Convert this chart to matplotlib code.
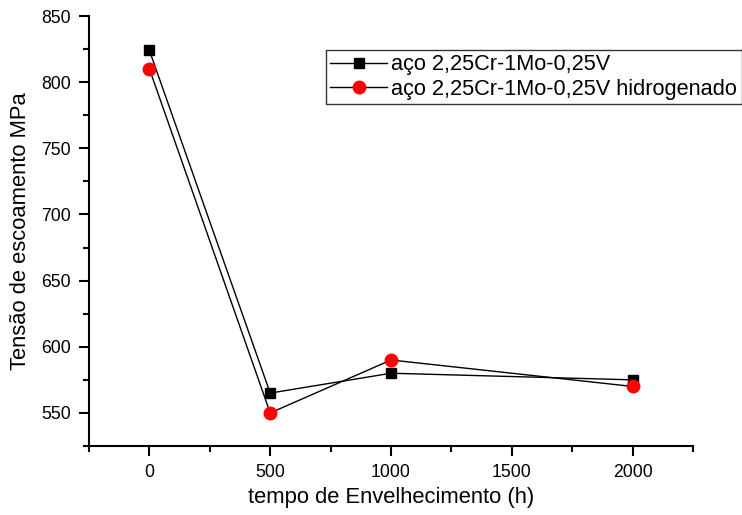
import matplotlib
matplotlib.use("Agg")
from matplotlib import pyplot as plt
from matplotlib.ticker import MultipleLocator

plt.rcParams['font.family'] = ['Liberation Sans', 'DejaVu Sans']

# data
tempo = [0, 500, 1000, 2000]
tensao_aco = [824, 565, 580, 575]
tensao_hidrogenado = [810, 550, 590, 570]
label_aco = 'aço 2,25Cr-1Mo-0,25V'
label_hidro = 'aço 2,25Cr-1Mo-0,25V hidrogenado'

fig = plt.figure(figsize=(7.42, 5.15), dpi=100)
ax = fig.add_axes([89 / 742, 1 - 446 / 515, (693 - 89) / 742, (446 - 16) / 515])

ax.plot(tempo, tensao_aco, color='black', lw=1, marker='s', ms=7.5,
        mfc='black', mec='black', label=label_aco)
ax.plot(tempo, tensao_hidrogenado, color='black', lw=1, marker='o', ms=9,
        mfc='red', mec='red', label=label_hidro)

ax.set_xlim(-250, 2250)
ax.set_ylim(525, 850)
ax.xaxis.set_major_locator(MultipleLocator(500))
ax.xaxis.set_minor_locator(MultipleLocator(250))
ax.yaxis.set_major_locator(MultipleLocator(50))
ax.yaxis.set_minor_locator(MultipleLocator(25))

for s in ['top', 'right']:
    ax.spines[s].set_visible(False)
for s in ['left', 'bottom']:
    ax.spines[s].set_linewidth(1.5)

ax.tick_params(which='major', direction='out', length=7, width=1.5,
               labelsize=12.7, pad=6)
ax.tick_params(which='minor', direction='out', length=4, width=1.5)

ax.set_xlabel('tempo de Envelhecimento (h)', fontsize=15.8)
ax.set_ylabel('Tensão de escoamento MPa', fontsize=15.8)
ax.xaxis.set_label_coords(0.5, -(497 - 446) / 430, transform=ax.transAxes)
ax.yaxis.set_label_coords(-(89 - 21) / 604, 0.5, transform=ax.transAxes)
ax.xaxis.label.set_va('center')
ax.yaxis.label.set_va('center')

leg = ax.legend(loc='upper left', bbox_to_anchor=(326 / 742, 1 - 50 / 515),
                bbox_transform=fig.transFigure, fontsize=15.7, frameon=True,
                fancybox=False, edgecolor='#333333', framealpha=1,
                borderpad=0.2, labelspacing=0.15, handlelength=2.6,
                handletextpad=0.2, borderaxespad=0)
leg.get_frame().set_linewidth(1)

fig.savefig('out.png', dpi=100)
